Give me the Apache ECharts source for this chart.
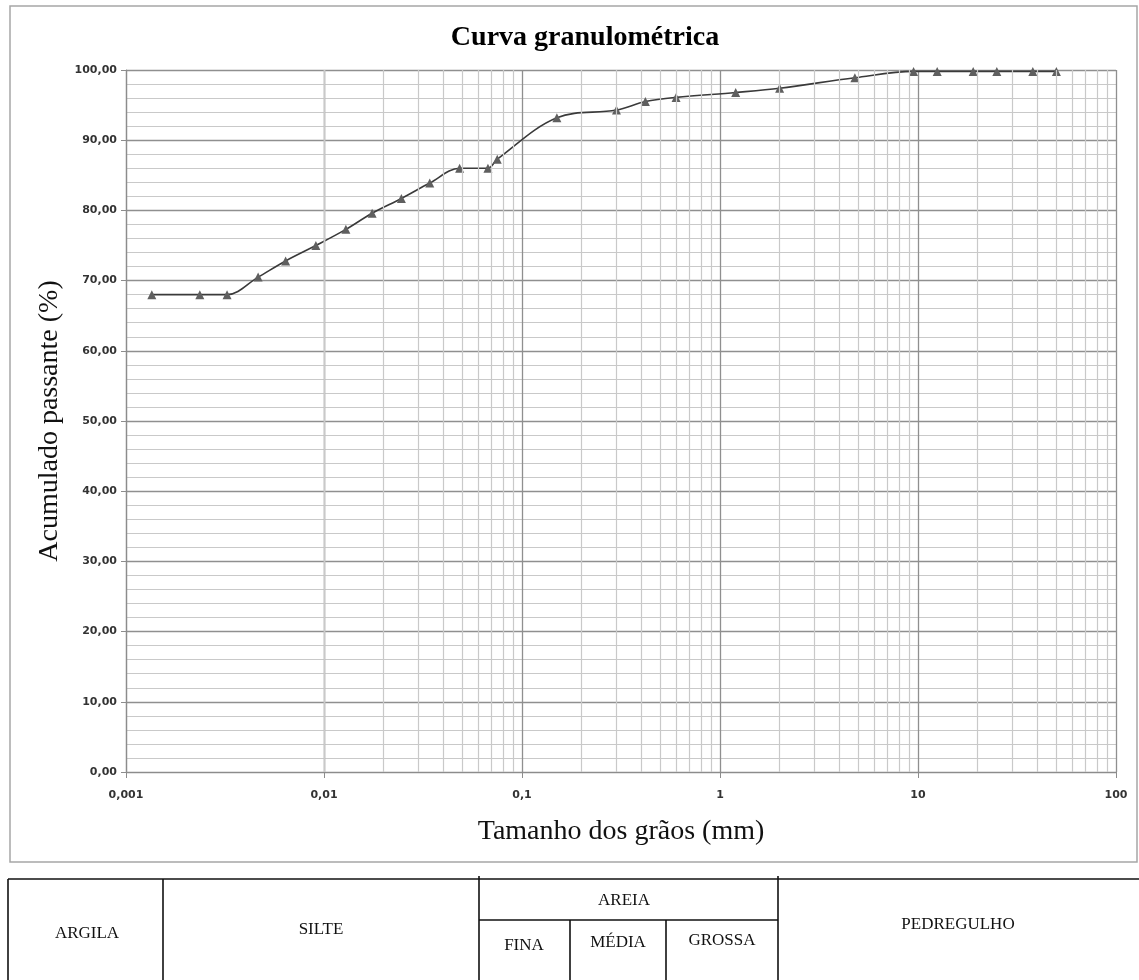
<!DOCTYPE html>
<html>
<head>
<meta charset="utf-8">
<style>
  html, body { margin: 0; padding: 0; background: #ffffff; }
  #chart { width: 1139px; height: 980px; }
</style>
<script src="https://cdn.jsdelivr.net/npm/echarts@6/dist/echarts.min.js"></script>
</head>
<body>
<div id="chart"></div>
<script>
// Grain size (mm) and cumulative passing (%)
const graoMm = [0.00135, 0.00236, 0.00324, 0.00465, 0.0064, 0.0091, 0.0129, 0.0175, 0.0246,
                0.0342, 0.0484, 0.0673, 0.075, 0.15, 0.3, 0.42, 0.6, 1.2, 2.0, 4.8,
                9.5, 12.5, 19, 25, 38, 50];
const passante = [68.0, 68.0, 68.0, 70.5, 72.8, 75.0, 77.3, 79.6, 81.7,
                  83.9, 86.0, 86.0, 87.3, 93.2, 94.3, 95.5, 96.1, 96.8, 97.4, 98.9,
                  99.8, 99.8, 99.8, 99.8, 99.8, 99.8];
const xTickLabels = ['0,001', '0,01', '0,1', '1', '10', '100'];

// Soil classification bands shown under the chart
const bandasTopo = ['ARGILA', 'SILTE', 'AREIA', 'PEDREGULHO'];
const bandasAreia = ['FINA', 'MÉDIA', 'GROSSA'];

const pontos = graoMm.map((x, i) => [x, passante[i]]);

// Intermediate logarithmic grid lines (2..9 of each decade)
const linhasMenores = [];
[0.001, 0.01, 0.1, 1, 10].forEach(d => {
  for (let k = 2; k <= 9; k++) linhasMenores.push({ xAxis: +(k * d).toPrecision(3) });
});

const serif = '"Liberation Serif", "DejaVu Serif", serif';
const sans = '"DejaVu Sans", Verdana, sans-serif';

const chart = echarts.init(document.getElementById('chart'), null, { renderer: 'canvas' });

// Table under the chart: columns and row split
const tTop = 879, tBottom = 990, tMid = 920;
const cols = [8, 163, 479, 570, 666, 778, 1139];
const lineStyle = { stroke: '#111', lineWidth: 1.6 };
const g = [];
g.push({ type: 'rect', shape: { x: 10, y: 6, width: 1127, height: 856 },
         style: { fill: 'none', stroke: '#a6a6a6', lineWidth: 1.5 }, silent: true });
g.push({ type: 'line', shape: { x1: cols[0], y1: tTop, x2: 1139, y2: tTop }, style: lineStyle });
[0, 1, 2, 5].forEach(i => g.push({ type: 'line', shape: { x1: cols[i], y1: i === 2 || i === 5 ? tTop - 3 : tTop, x2: cols[i], y2: tBottom }, style: lineStyle }));
[3, 4].forEach(i => g.push({ type: 'line', shape: { x1: cols[i], y1: tMid, x2: cols[i], y2: tBottom }, style: lineStyle }));
g.push({ type: 'line', shape: { x1: cols[2], y1: tMid, x2: cols[5], y2: tMid }, style: lineStyle });

const txt = (s, x, y) => ({ type: 'text', x: x, y: y,
  style: { text: s, font: '17px ' + serif, fill: '#111', textAlign: 'center', textVerticalAlign: 'middle' } });
g.push(txt(bandasTopo[0], 87, 934));
g.push(txt(bandasTopo[1], 321, 930));
g.push(txt(bandasTopo[2], 624, 901));
g.push(txt(bandasTopo[3], 958, 925));
g.push(txt(bandasAreia[0], 524, 946));
g.push(txt(bandasAreia[1], 618, 943));
g.push(txt(bandasAreia[2], 722, 941));

chart.setOption({
  animation: false,
  backgroundColor: '#ffffff',
  title: {
    text: 'Curva granulométrica',
    left: 580, top: 19, textAlign: 'center',
    textStyle: { fontFamily: serif, fontSize: 28, fontWeight: 'bold', color: '#000' }
  },
  grid: { left: 126, top: 70, right: 23, bottom: 208 },
  xAxis: {
    type: 'log', logBase: 10, min: 0.001, max: 100,
    name: 'Tamanho dos grãos (mm)', nameLocation: 'middle', nameGap: 46,
    nameTextStyle: { fontFamily: serif, fontSize: 28, color: '#111' },
    axisLine: { show: true, onZero: false, lineStyle: { color: '#8c8c8c', width: 1.2 } },
    axisTick: { show: true, length: 6, lineStyle: { color: '#8c8c8c' } },
    axisLabel: {
      margin: 18, fontFamily: sans, fontSize: 11, fontWeight: 'bold', color: '#333',
      formatter: (v) => {
        const idx = Math.round(Math.log10(v)) + 3;
        return xTickLabels[idx] !== undefined ? xTickLabels[idx] : '';
      }
    },
    splitLine: { show: true, lineStyle: { color: '#8f8f8f', width: 1.3 } }
  },
  yAxis: {
    type: 'value', min: 0, max: 100, interval: 10,
    name: 'Acumulado passante (%)', nameLocation: 'middle', nameGap: 62,
    nameTextStyle: { fontFamily: serif, fontSize: 28, color: '#111' },
    axisLine: { show: true, lineStyle: { color: '#8c8c8c', width: 1.2 } },
    axisTick: { show: true, length: 5, lineStyle: { color: '#8c8c8c' } },
    axisLabel: {
      margin: 9, fontFamily: sans, fontSize: 11, fontWeight: 'bold', color: '#333',
      formatter: (v) => v.toFixed(2).replace('.', ',')
    },
    splitLine: { show: true, lineStyle: { color: '#8f8f8f', width: 1.3 } },
    minorTick: { show: false, splitNumber: 5 },
    minorSplitLine: { show: true, lineStyle: { color: '#c9c9c9', width: 1.2 } }
  },
  series: [
    {
      type: 'line', data: [], z: 1, silent: true,
      markLine: {
        silent: true, symbol: 'none', animation: false,
        label: { show: false },
        lineStyle: { color: '#c9c9c9', width: 1.2, type: 'solid' },
        emphasis: { disabled: true },
        data: linhasMenores
      }
    },
    {
      type: 'line', data: pontos, z: 3,
      smooth: 0.35,
      symbol: 'triangle', symbolSize: 9,
      itemStyle: { color: '#5f5f5f' },
      lineStyle: { color: '#3a3a3a', width: 1.6 }
    }
  ],
  graphic: { elements: g }
});
</script>
</body>
</html>
